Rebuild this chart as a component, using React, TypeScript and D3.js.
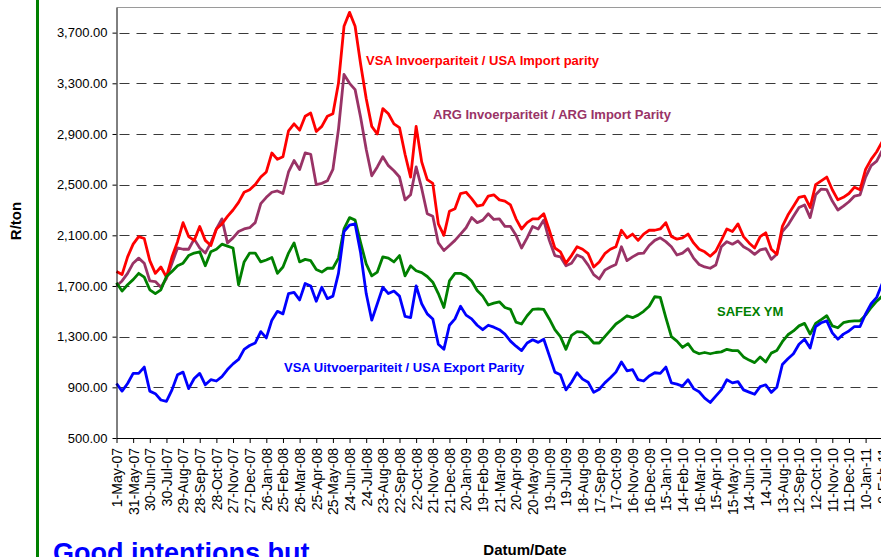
import React, { useEffect, useRef } from 'react';
import * as d3 from 'd3';

// one reading every 10 days, starting 1 May 2007
const startDate = '2007-05-01';
const stepDays = 10;

const tickLabels = [
    '1-May-07', '31-May-07', '30-Jun-07', '30-Jul-07', '29-Aug-07', '28-Sep-07', '28-Oct-07', '27-Nov-07',
    '27-Dec-07', '26-Jan-08', '25-Feb-08', '26-Mar-08', '25-Apr-08', '25-May-08', '24-Jun-08', '24-Jul-08',
    '23-Aug-08', '22-Sep-08', '22-Oct-08', '21-Nov-08', '21-Dec-08', '20-Jan-09', '19-Feb-09', '21-Mar-09',
    '20-Apr-09', '20-May-09', '19-Jun-09', '19-Jul-09', '18-Aug-09', '17-Sep-09', '17-Oct-09', '16-Nov-09',
    '16-Dec-09', '15-Jan-10', '14-Feb-10', '16-Mar-10', '15-Apr-10', '15-May-10', '14-Jun-10', '14-Jul-10',
    '13-Aug-10', '12-Sep-10', '12-Oct-10', '11-Nov-10', '11-Dec-10', '10-Jan-11', '9-Feb-11',
];

const yTicks = [500, 900, 1300, 1700, 2100, 2500, 2900, 3300, 3700];

// VSA Invoerpariteit / USA Import parity
const usaImport = [
    1815, 1790, 1930, 2030, 2090, 2075, 1900, 1800, 1850, 1770,
    1930, 2050, 2200, 2090, 2060, 2170, 2060, 2020, 2150, 2190,
    2250, 2300, 2360, 2440, 2460, 2500, 2560, 2600, 2750, 2700,
    2720, 2925, 2980, 2930, 3040, 3065, 2920, 2960, 3040, 3060,
    3300, 3750, 3860, 3750, 3450, 3180, 2960, 2900, 3100, 3060,
    2980, 2950, 2740, 2560, 2960, 2680, 2540, 2510, 2190, 2100,
    2290, 2310, 2430, 2440, 2390, 2330, 2340, 2410, 2420, 2380,
    2370, 2340, 2230, 2150, 2200, 2230, 2230, 2270, 2140, 2000,
    1970, 1880, 1940, 2010, 1990, 1955, 1850, 1890, 1955, 1990,
    2010, 2140, 2080, 2110, 2060, 2110, 2140, 2140, 2150, 2200,
    2090, 2070, 2080, 2110, 2040, 1990, 1970, 1935, 1975, 2060,
    2150, 2130, 2190, 2090, 2040, 2000, 2090, 2120, 1990, 1950,
    2170, 2260, 2330, 2400, 2410, 2320, 2500, 2530, 2560, 2460,
    2380, 2400, 2430, 2480, 2460, 2620, 2700, 2760, 2840,
];

// ARG Invoerpariteit / ARG Import Parity
const argImport = [
    1700, 1740, 1800, 1880, 1920, 1880, 1740, 1735, 1690, 1760,
    1880, 2000, 1990, 1990, 2070, 2000, 1960, 2040, 2150, 2230,
    2040, 2080, 2130, 2150, 2160, 2200, 2350, 2400, 2440, 2450,
    2430, 2600, 2690, 2620, 2750, 2740, 2500, 2510, 2530, 2620,
    2935, 3370, 3300, 3250, 3030, 2780, 2570, 2640, 2720, 2650,
    2610, 2560, 2380, 2420, 2640, 2470, 2270, 2250, 2040, 1980,
    2020, 2060, 2110, 2160, 2240, 2200, 2220, 2270, 2225, 2230,
    2170, 2170, 2100, 2000, 2080, 2170, 2150, 2220, 2060, 1940,
    1930, 1860, 1880, 1945, 1925, 1865, 1790, 1755, 1825, 1850,
    1870, 2010, 1900, 1930, 1955, 1960, 2020, 2060, 2080, 2050,
    2010, 1945, 1960, 1995, 1920, 1870, 1850, 1840, 1865, 2010,
    2050, 2030, 2055, 2010, 1985, 1950, 1985, 1995, 1910, 1950,
    2130, 2180, 2250, 2320, 2340, 2240, 2420, 2465, 2460, 2370,
    2300, 2330, 2365, 2410, 2420, 2560, 2650, 2685, 2770,
];

// SAFEX YM
const safexYm = [
    1725, 1660, 1710, 1750, 1800, 1770, 1670, 1640, 1670, 1775,
    1815, 1860, 1880, 1940, 1960, 1970, 1860, 1970, 1990, 2030,
    2015, 2000, 1710, 1890, 1960, 1960, 1890, 1905, 1925, 1800,
    1850, 1960, 2040, 1890, 1910, 1900, 1830, 1810, 1840, 1840,
    1920, 2150, 2240, 2220, 2040, 1875, 1780, 1810, 1930, 1920,
    1890, 1940, 1780, 1860, 1820, 1805, 1775, 1730, 1640, 1530,
    1740, 1800, 1800, 1780, 1740, 1665, 1620, 1550, 1565, 1575,
    1530, 1515, 1415, 1400, 1465, 1515, 1520, 1515, 1440, 1355,
    1300, 1200, 1310, 1340, 1335, 1300, 1250, 1250, 1300, 1350,
    1400, 1430, 1465, 1450, 1470, 1500, 1540, 1615, 1610, 1450,
    1300, 1265, 1215, 1245, 1185, 1165, 1175, 1165, 1175, 1180,
    1200, 1190, 1190, 1140, 1115, 1095, 1140, 1100, 1170, 1190,
    1260, 1315, 1345, 1385, 1405, 1320, 1405, 1435, 1465, 1385,
    1370, 1410, 1420, 1425, 1425, 1470, 1530, 1580, 1620,
];

// VSA Uitvoerpariteit / USA Export Parity
const usaExport = [
    930, 870, 930, 1010, 1010, 1060, 870, 850, 800, 790,
    880, 1000, 1020, 890, 970, 1010, 920, 960, 950, 985,
    1040, 1085, 1120, 1200, 1230, 1250, 1340, 1290, 1430, 1500,
    1480, 1640, 1650, 1590, 1720, 1700, 1580, 1690, 1600, 1620,
    1800, 2130, 2180, 2190, 1960, 1640, 1430, 1560, 1690, 1640,
    1660, 1620, 1460, 1450, 1700, 1560, 1480, 1440, 1240, 1200,
    1390, 1440, 1540, 1470, 1440, 1390, 1355, 1390, 1375, 1355,
    1320, 1265, 1225, 1190, 1250, 1275, 1255, 1280, 1150, 1020,
    1000, 880, 940, 1015, 965, 940, 860, 885, 935, 975,
    1020, 1100, 1030, 1040, 960, 950, 990, 1015, 1010, 1060,
    935, 925, 910, 960, 890, 865, 815, 780, 830, 880,
    960, 935, 945, 880, 862, 845, 905, 920, 860, 900,
    1080, 1125, 1165, 1240, 1280, 1210, 1380, 1410, 1425, 1330,
    1280, 1320, 1345, 1380, 1380, 1480, 1560, 1610, 1720,
];

const dimensions = {
    width: 881,
    height: 557,
    plotLeft: 116.5,
    plotRight: 900,
    plotTop: 7.3,
    plotBottom: 438,
};

const font = '"Liberation Sans", Arial, sans-serif';

const App = () => {
    const container = useRef<HTMLDivElement>(null);

    useEffect(() => {
        if (!container.current) return;
        d3.select(container.current).selectAll('*').remove();

        const svg = d3.select(container.current)
            .append('svg')
            .attr('width', dimensions.width)
            .attr('height', dimensions.height)
            .style('display', 'block')
            .style('background', '#fff')
            .style('font-family', font);

        const start = d3.utcParse('%Y-%m-%d')(startDate) as Date;
        const parseTick = d3.utcParse('%d-%b-%y');
        const tickDates = tickLabels.map(t => parseTick(t) as Date);
        const dateAt = (i: number) => d3.utcDay.offset(start, i * stepDays);

        const xScale = d3.scaleUtc()
            .domain([start, d3.utcDay.offset(start, 1412)])
            .range([dimensions.plotLeft, dimensions.plotRight]);

        const yScale = d3.scaleLinear()
            .domain([500, 3900])
            .range([dimensions.plotBottom, dimensions.plotTop]);

        // green slide border
        svg.append('rect')
            .attr('x', 36).attr('y', 0).attr('width', 3).attr('height', dimensions.height)
            .attr('fill', '#008000');

        // gridlines
        svg.append('g')
            .selectAll('line')
            .data(yTicks.filter(t => t > 500))
            .join('line')
            .attr('x1', dimensions.plotLeft)
            .attr('x2', dimensions.plotRight)
            .attr('y1', d => Math.round(yScale(d)) + 0.5)
            .attr('y2', d => Math.round(yScale(d)) + 0.5)
            .attr('stroke', '#3a3a3a')
            .attr('stroke-width', 1)
            .attr('stroke-dasharray', '10,7')
            .attr('stroke-dashoffset', -3);

        // top border of the plot area
        svg.append('line')
            .attr('x1', dimensions.plotLeft).attr('x2', dimensions.plotRight)
            .attr('y1', 7.5).attr('y2', 7.5)
            .attr('stroke', '#9a9a9a');

        const lineFor = (values: number[]) => d3.line<number>()
            .x((_, i) => xScale(dateAt(i)))
            .y(d => yScale(d))(values);

        const series = [
            { values: argImport, color: '#993366' },
            { values: usaImport, color: '#ff0000' },
            { values: safexYm, color: '#008000' },
            { values: usaExport, color: '#0000ff' },
        ];

        svg.append('g')
            .selectAll('path')
            .data(series)
            .join('path')
            .attr('d', d => lineFor(d.values))
            .attr('fill', 'none')
            .attr('stroke', d => d.color)
            .attr('stroke-width', 2.8)
            .attr('stroke-linejoin', 'round');

        // axes
        const xAxis = d3.axisBottom(xScale)
            .tickValues(tickDates)
            .tickFormat((_, i) => tickLabels[i])
            .tickSize(5)
            .tickSizeOuter(0);

        const xAxisGroup = svg.append('g')
            .attr('transform', `translate(0, ${dimensions.plotBottom})`)
            .call(xAxis);
        xAxisGroup.select('.domain').attr('stroke', '#000');
        xAxisGroup.selectAll('.tick line').attr('stroke', '#000');
        xAxisGroup.selectAll('text')
            .attr('transform', 'rotate(-90)')
            .attr('x', -10)
            .attr('y', 0)
            .attr('dy', '0.35em')
            .style('text-anchor', 'end')
            .style('font-size', '14px')
            .style('font-family', font)
            .attr('fill', '#000');

        const yAxis = d3.axisLeft(yScale)
            .tickValues(yTicks)
            .tickFormat(d3.format(',.2f') as any)
            .tickSize(4)
            .tickPadding(5)
            .tickSizeOuter(0);

        const yAxisGroup = svg.append('g')
            .attr('transform', `translate(${dimensions.plotLeft}, 0)`)
            .call(yAxis);
        yAxisGroup.select('.domain').attr('stroke', '#000');
        yAxisGroup.selectAll('.tick line').attr('stroke', '#000');
        yAxisGroup.selectAll('text')
            .style('font-size', '13px')
            .style('font-family', font)
            .attr('fill', '#000');

        // series labels
        const labels = [
            { text: 'VSA Invoerpariteit / USA Import parity', x: 366, y: 65, color: '#ff0000' },
            { text: 'ARG Invoerpariteit / ARG Import Parity', x: 433, y: 119, color: '#993366' },
            { text: 'SAFEX YM', x: 717, y: 316, color: '#008000' },
            { text: 'VSA Uitvoerpariteit / USA Export Parity', x: 284, y: 372, color: '#0000ff' },
        ];
        svg.append('g')
            .selectAll('text')
            .data(labels)
            .join('text')
            .attr('x', d => d.x)
            .attr('y', d => d.y)
            .attr('fill', d => d.color)
            .style('font-size', '13px')
            .style('font-weight', 'bold')
            .text(d => d.text);

        svg.append('text')
            .attr('transform', 'translate(21, 221) rotate(-90)')
            .style('text-anchor', 'middle')
            .style('font-size', '15px')
            .style('font-weight', 'bold')
            .attr('fill', '#000')
            .text('R/ton');

        svg.append('text')
            .attr('x', 525)
            .attr('y', 555)
            .style('text-anchor', 'middle')
            .style('font-size', '15px')
            .style('font-weight', 'bold')
            .attr('fill', '#000')
            .text('Datum/Date');

        svg.append('text')
            .attr('x', 53)
            .attr('y', 562)
            .style('font-size', '27px')
            .style('font-weight', 'bold')
            .attr('fill', '#0000ff')
            .text('Good intentions but');
    }, []);

    return (<div ref={container} style={{ position: 'absolute', left: 0, top: 0, width: 881, height: 557, overflow: 'hidden' }} />);
};

export default App;
